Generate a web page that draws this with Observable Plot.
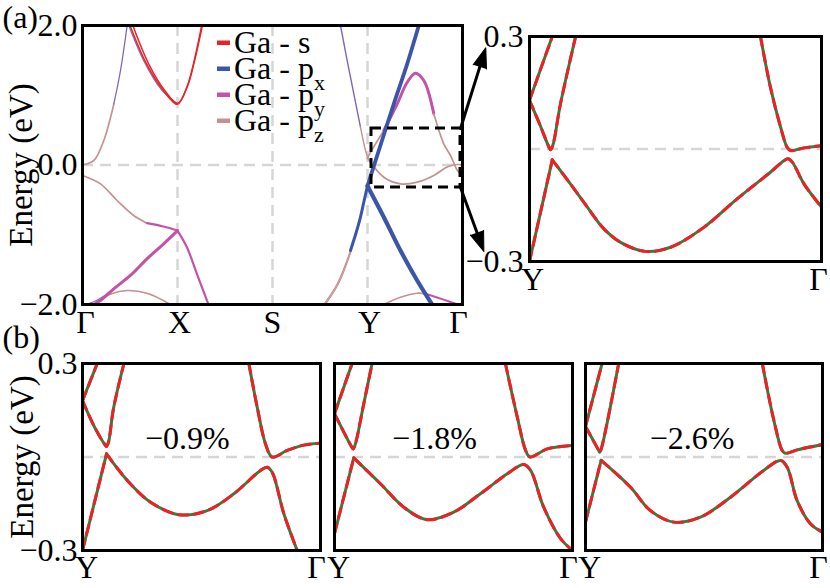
<!DOCTYPE html>
<html><head><meta charset="utf-8">
<script src="https://cdn.jsdelivr.net/npm/d3@7"></script>
<script src="https://cdn.jsdelivr.net/npm/@observablehq/plot@0.6"></script>
<style>
body{margin:0;background:#fff;}
#fig{position:relative;width:830px;height:588px;overflow:hidden;background:#fff;}
#fig svg{position:absolute;left:0;top:0;}
</style></head><body><div id="fig"></div>
<script>
// ---------------- data ----------------
const kTicks = [0, 1, 2, 3, 4];
const kLabels = ["Γ", "X", "S", "Y", "Γ"];
const insetTicks = [0, 1];
const insetTickLabels = ["Y", "Γ"];
const mainYTicks = [-2, 0, 2];
const insetYTicks = [-0.3, 0.3];
const orbitalNames = ["Ga - s", "Ga - p", "Ga - p", "Ga - p"];
const orbitalSubs = ["", "x", "y", "z"];
const strainLabels = ["−0.9%", "−1.8%", "−2.6%"];
const strainLabelK = [0.44, 0.42, 0.45];
const strainLabelE = [0.06, 0.06, 0.06];
const gridK = [1, 2, 3];
const zoomBox = [{k1: 3.042, k2: 3.979, e1: -0.323, e2: 0.523}];
const zoomArrows = [
  {k1: 3.979, e1: 0.523, k2: 4.245, e2: 1.68},
  {k1: 3.979, e1: -0.323, k2: 4.225, e2: -1.24}
];

// main band structure pieces: [k, E(eV)]
const bandA_pz = [[0,0],[0.12,0.065],[0.224,0.351],[0.33,0.877]];
const bandA_px = [[0.33,0.877],[0.4,1.355],[0.47,2.0]];
const bandB1_s = [[0.5,2.0],[0.67,1.46],[0.85,1.07],[1.0,0.87],[1.1,1.12],[1.17,1.46],[1.255,2.0]];
const bandB2_s = [[0.53,2.0],[0.70,1.44],[0.87,1.06],[1.0,0.885],[1.105,1.13],[1.175,1.47],[1.262,2.0]];
const bandB3_px = [[0.487,2.0],[0.65,1.48],[0.83,1.08],[1.0,0.875]];
const bandC_pz = [[0,-0.15],[0.189,-0.27],[0.364,-0.509],[0.539,-0.724],[0.679,-0.834]];
const bandC_py1 = [[0.679,-0.834],[0.854,-0.882],[1.0,-0.94]];
const bandC_py2 = [[1.0,-0.94],[1.099,-1.178],[1.204,-1.56],[1.326,-2.0]];
const bandD_py = [[1.0,-0.94],[0.854,-1.13],[0.679,-1.345],[0.504,-1.584],[0.329,-1.775],[0.189,-1.943],[0.119,-2.0]];
const bandD2_px = [[0.03,-2.0],[0.12,-1.96],[0.2,-1.9],[0.33,-1.785]];
const bandE_pz = [[0.119,-2.0],[0.3,-1.85],[0.47,-1.8],[0.68,-1.84],[0.926,-2.0]];
const bandF_px = [[2.716,2.0],[2.786,1.498],[2.856,1.021],[2.926,0.542]];
const bandF_pz = [[2.926,0.542],[2.979,0.208],[3.0,0.12]];
const bandG_up = [[3.0,-0.3],[3.119,0.208],[3.277,0.877],[3.418,1.45],[3.54,2.0]];
const bandG_down = [[3.0,-0.3],[3.172,-0.748],[3.347,-1.226],[3.523,-1.656],[3.68,-2.0]];
const bandG_left = [[3.0,-0.3],[2.963,-0.52],[2.926,-0.748],[2.876,-0.99],[2.821,-1.226]];
const bandG_leftLow1 = [[2.821,-1.226],[2.681,-1.703],[2.54,-2.0]];
const bandG_leftLow2 = [[2.83,-1.226],[2.695,-1.703],[2.556,-2.0]];
const bandH_pz1 = [[3.0,0.1],[3.032,0.184],[3.172,0.495]];
const bandH_py = [[3.172,0.495],[3.313,0.877],[3.418,1.187],[3.505,1.316],[3.593,1.211],[3.698,0.734]];
const bandH_pz2 = [[3.698,0.734],[3.803,0.304],[3.874,0.136],[3.947,-0.08],[4.0,-0.15]];
const bandI_pz = [[3.0,0.1],[3.172,-0.175],[3.347,-0.27],[3.523,-0.246],[3.698,-0.15],[3.838,-0.03],[3.944,0.007],[4.0,0.0]];
const bandJ_pz = [[3.172,-2.0],[3.347,-1.895],[3.523,-1.838],[3.62,-1.85]];
const bandJ_py = [[3.62,-1.85],[3.8,-1.93],[3.95,-2.0]];

// zoomed Y–Γ bands: [t along Y→Γ, E(eV)]
const ins0_c1 = [[0,0.13],[0.078,0.30]];
const ins0_c2 = [[0,0.13],[0.035,0.066],[0.066,0.006],[0.072,-0.002],[0.08,0.01],[0.106,0.12],[0.158,0.30]];
const ins0_vL = [[0,-0.30],[0.078,-0.029]];
const ins0_v = [[0.078,-0.029],[0.14,-0.093],[0.198,-0.155],[0.255,-0.213],[0.312,-0.249],[0.397,-0.273],[0.483,-0.262],[0.597,-0.209],[0.711,-0.133],[0.825,-0.062],[0.87,-0.032],[0.885,-0.026],[0.9,-0.035],[0.94,-0.093],[1.0,-0.155]];
const ins0_c3 = [[0.791,0.30],[0.825,0.165],[0.86,0.058],[0.882,0.005],[0.894,-0.004],[0.94,0.003],[1.0,0.009]];

const b1_c1 = [[0,0.181],[0.062,0.30]];
const b1_c2 = [[0,0.181],[0.048,0.1],[0.092,0.042],[0.101,0.034],[0.11,0.05],[0.13,0.155],[0.174,0.30]];
const b1_vL = [[0,-0.30],[0.101,0.01]];
const b1_v = [[0.101,0.01],[0.188,-0.075],[0.286,-0.145],[0.405,-0.185],[0.524,-0.172],[0.636,-0.118],[0.748,-0.043],[0.776,-0.033],[0.797,-0.049],[0.846,-0.182],[0.902,-0.30]];
const b1_c3 = [[0.699,0.30],[0.734,0.16],[0.769,0.042],[0.797,0.0],[0.86,0.021],[0.93,0.038],[1.0,0.044]];

const b2_c1 = [[0,0.139],[0.074,0.30]];
const b2_c2 = [[0,0.139],[0.07,0.035],[0.078,0.026],[0.087,0.04],[0.123,0.171],[0.158,0.30]];
const b2_vL = [[0,-0.246],[0.081,-0.003]];
const b2_v = [[0.081,-0.003],[0.193,-0.086],[0.291,-0.161],[0.389,-0.201],[0.501,-0.177],[0.613,-0.118],[0.726,-0.054],[0.795,-0.024],[0.824,-0.043],[0.879,-0.161],[0.95,-0.262],[1.0,-0.30]];
const b2_c3 = [[0.718,0.30],[0.768,0.128],[0.803,0.021],[0.821,0.0],[0.894,0.026],[1.0,0.037]];

const b3_c1 = [[0,0.098],[0.07,0.30]];
const b3_c2 = [[0,0.098],[0.055,0.022],[0.06,0.015],[0.068,0.03],[0.14,0.30]];
const b3_vL = [[0,-0.209],[0.066,-0.011]];
const b3_v = [[0.066,-0.011],[0.19,-0.097],[0.274,-0.172],[0.373,-0.209],[0.485,-0.193],[0.612,-0.129],[0.752,-0.043],[0.823,-0.011],[0.851,-0.033],[0.893,-0.14],[0.949,-0.214],[1.0,-0.241]];
const b3_c3 = [[0.746,0.30],[0.795,0.117],[0.83,0.021],[0.844,0.012],[0.894,0.023],[1.0,0.04]];

// ---------------- styles ----------------
const COL = {s: "#e8242a", px: "#3b56a6", py: "#c352a8", pz: "#c49090", mix: "#8068b0"};
const GREEN = "#1f8a3c", RED = "#ee2026";
const FONT = "'Liberation Serif', 'Times New Roman', Times, serif";
const W = 830, H = 588;

const mainPieces = [
  [bandE_pz, "pz", 1.6], [bandJ_pz, "pz", 1.6], [bandJ_py, "py", 2],
  [bandA_pz, "pz", 1.7], [bandA_px, "mix", 1.3],
  [bandB3_px, "mix", 1.2], [bandB1_s, "s", 1.5], [bandB2_s, "s", 1.5],
  [bandC_pz, "pz", 1.7], [bandC_py1, "py", 2.2], [bandC_py2, "py", 2.2],
  [bandD2_px, "mix", 1.1], [bandD_py, "py", 3],
  [bandF_px, "mix", 1.4], [bandF_pz, "pz", 1.4],
  [bandG_leftLow1, "pz", 1.2], [bandG_leftLow2, "pz", 1.2],
  [bandI_pz, "pz", 1.7],
  [bandH_pz1, "pz", 1.7], [bandH_py, "py", 3], [bandH_pz2, "pz", 1.7],
  [bandG_left, "px", 3], [bandG_up, "px", 3.8], [bandG_down, "px", 4.2]
];

const fmt1 = d => (d < 0 ? "−" : "") + Math.abs(d).toFixed(1);
const baseStyle = {background: "transparent", overflow: "visible", maxWidth: "none", fontFamily: FONT, fontSize: "32px", color: "black"};
const P = d => d[0], Q = d => d[1];

function frameOpts(x0, x1, y0, y1) {
  return {width: W, height: H, marginLeft: x0, marginRight: W - x1, marginTop: y0, marginBottom: H - y1, style: baseStyle};
}
const grid = {stroke: "#d6d6d6", strokeWidth: 2.5, strokeDasharray: "11,7"};

function dashedBands(arrs) {
  const out = [];
  for (const a of arrs) {
    out.push(Plot.line(a, {x: P, y: Q, stroke: GREEN, strokeWidth: 3, curve: "catmull-rom", clip: true}));
    out.push(Plot.line(a, {x: P, y: Q, stroke: RED, strokeWidth: 3, strokeDasharray: "10,6", curve: "catmull-rom", clip: true}));
  }
  return out;
}
function xLabels(ticks, labels, nudges, pad) {
  return ticks.map((t, i) => Plot.text([t], {x: d => d, text: () => labels[i], frameAnchor: "bottom", lineAnchor: "top", dy: pad, dx: nudges[i], fontSize: 32, fill: "black"}));
}

const fig = document.getElementById("fig");

const pxPerK = 95, pxPerE = 69.75;
const arrowHeads = zoomArrows.map(a => ({
  k: a.k2, e: a.e2,
  rot: Math.atan2((a.k2 - a.k1) * pxPerK, (a.e2 - a.e1) * pxPerE) * 180 / Math.PI
}));
let headMark = null;
try {
  headMark = Plot.vector(arrowHeads, {x: "k", y: "e", rotate: "rot", length: 20, shape: "spike", r: 7, anchor: "end", fill: "black", stroke: "black", strokeWidth: 1});
} catch (e) { headMark = null; }

// ---------- (a) main ----------
const mainPlot = Plot.plot({
  ...frameOpts(82, 462, 25, 304),
  x: {domain: [0, 4], axis: null},
  y: {domain: [-2, 2], ticks: mainYTicks, tickFormat: d => d === 0 ? "0.0" : fmt1(d), tickSize: 0, tickPadding: 5, label: null},
  marks: [
    Plot.ruleX(gridK, grid),
    Plot.ruleY([0], grid),
    ...mainPieces.map(([pts, orb, w]) => Plot.line(pts, {x: P, y: Q, stroke: COL[orb], strokeWidth: w, curve: "catmull-rom", clip: true})),
    Plot.rect(zoomBox, {x1: "k1", x2: "k2", y1: "e1", y2: "e2", fill: "none", stroke: "black", strokeWidth: 3, strokeDasharray: "10,6"}),
    Plot.arrow(zoomArrows, {x1: "k1", y1: "e1", x2: "k2", y2: "e2", stroke: "black", strokeWidth: 3, headLength: headMark ? 0 : 18, headAngle: 50, insetEnd: headMark ? 10 : 0}),
    ...(headMark ? [headMark] : []),
    Plot.frame({stroke: "black", strokeWidth: 3}),
    ...xLabels(kTicks, kLabels, [3, 2, 0, 2, -4], 6),
    Plot.text(["(a)"], {text: d => d, frameAnchor: "top-left", dx: -80, dy: -8, textAnchor: "start", lineAnchor: "middle", fontSize: 32, fill: "black"}),
    Plot.text(["Energy (eV)"], {text: d => d, frameAnchor: "left", dx: -61, rotate: -90, textAnchor: "middle", lineAnchor: "middle", fontSize: 33, fill: "black"})
  ]
});
fig.appendChild(mainPlot);

// ---------- (a) zoom inset ----------
const insetPlot = Plot.plot({
  ...frameOpts(529, 821, 36, 261),
  x: {domain: [0, 1], axis: null},
  y: {domain: [-0.3, 0.3], ticks: insetYTicks, tickFormat: fmt1, tickSize: 0, tickPadding: 6, label: null},
  marks: [
    Plot.ruleY([0], grid),
    ...dashedBands([ins0_c1, ins0_c2, ins0_vL, ins0_v, ins0_c3]),
    Plot.frame({stroke: "black", strokeWidth: 3}),
    ...xLabels(insetTicks, insetTickLabels, [3, -3], 6)
  ]
});
fig.appendChild(insetPlot);

// ---------- (b) strain panels ----------
const bFrames = [[82, 320], [334, 572], [585, 822]];
const bBands = [
  [b1_c1, b1_c2, b1_vL, b1_v, b1_c3],
  [b2_c1, b2_c2, b2_vL, b2_v, b2_c3],
  [b3_c1, b3_c2, b3_vL, b3_v, b3_c3]
];
bFrames.forEach(([x0, x1], i) => {
  const extra = i === 0 ? [
    Plot.text(["(b)"], {text: d => d, frameAnchor: "top-left", dx: -80, dy: -26, textAnchor: "start", lineAnchor: "middle", fontSize: 32, fill: "black"}),
    Plot.text(["Energy (eV)"], {text: d => d, frameAnchor: "left", dx: -60, rotate: -90, textAnchor: "middle", lineAnchor: "middle", fontSize: 33, fill: "black"})
  ] : [];
  const p = Plot.plot({
    ...frameOpts(x0, x1, 363, 550),
    x: {domain: [0, 1], axis: null},
    y: i === 0
      ? {domain: [-0.3, 0.3], ticks: insetYTicks, tickFormat: fmt1, tickSize: 0, tickPadding: 5, label: null}
      : {domain: [-0.3, 0.3], axis: null},
    marks: [
      Plot.ruleY([0], grid),
      ...dashedBands(bBands[i]),
      Plot.text([strainLabels[i]], {x: strainLabelK[i], y: strainLabelE[i], text: d => d, fontSize: 32, fill: "black", lineAnchor: "middle"}),
      Plot.frame({stroke: "black", strokeWidth: 3}),
      ...xLabels(insetTicks, insetTickLabels, [4, -4], 5),
      ...extra
    ]
  });
  fig.appendChild(p);
});

// ---------- legend ----------
const legendColors = [COL.s, COL.px, COL.py, COL.pz];
const leg = d3.create("svg").attr("width", W).attr("height", H).style("pointer-events", "none");
orbitalNames.forEach((name, i) => {
  const yb = 53 + i * 26;
  leg.append("rect").attr("x", 217).attr("y", yb - 12.5).attr("width", 13).attr("height", 4.5).attr("fill", legendColors[i]);
  const t = leg.append("text").attr("x", 234).attr("y", yb).attr("font-family", FONT).attr("font-size", 32).attr("fill", "black").text(name);
  if (orbitalSubs[i]) t.append("tspan").attr("font-size", 22).attr("dy", 11).text(orbitalSubs[i]);
});
fig.appendChild(leg.node());
</script></body></html>
